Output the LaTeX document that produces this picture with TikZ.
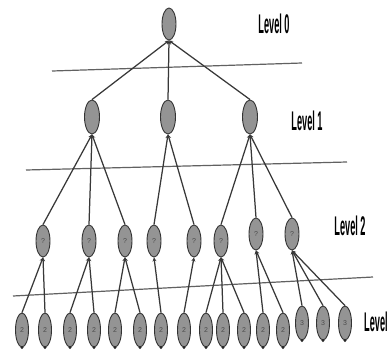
\documentclass[tikz,border=0pt]{standalone}
\usepackage{fontspec}
\setmainfont{Liberation Sans}
\usetikzlibrary{shapes.geometric,arrows.meta}
\begin{document}
\begin{tikzpicture}[x=1pt,y=-1pt,
  vtx/.style={ellipse,draw=black!80,fill=black!42,line width=0.9pt,minimum width=14pt,minimum height=32pt,inner sep=0pt,text=black!70,font=\fontsize{7}{7}\selectfont},
  leaf/.style={vtx,minimum width=13pt,minimum height=34pt},
  edge/.style={draw=black!78,line width=1.25pt,-{Stealth[length=4pt,width=4pt]}},
  sep/.style={draw=black!62,line width=1.2pt},
  lvl/.style={font=\fontsize{27}{27}\selectfont\bfseries,inner sep=0pt}]
\useasboundingbox (0,0) rectangle (391,354);
% separator lines
\coordinate (s1a) at (52,71);  \coordinate (s1b) at (302,63);
\coordinate (s2a) at (26,170); \coordinate (s2b) at (347,162);
\coordinate (s3a) at (13,296); \coordinate (s3b) at (373,277);
\draw[sep] (s1a) -- (s1b);
\draw[sep] (s2a) -- (s2b);
\draw[sep] (s3a) -- (s3b);
% nodes
\node[vtx] (r) at (169,24) {};
\foreach \n/\x in {a1/92,a2/168,a3/250}
  \node[vtx,minimum width=15pt,minimum height=34pt] (\n) at (\x,117) {};
\foreach \n/\x/\y in {b1/43/241,b2/89/241,b3/125/241,b4/154/241,b5/194/241,b6/221/241,b7/256/234,b8/292/234}
  \node[vtx] (\n) at (\x,\y) {?};
\foreach \n/\x/\y/\t in {c1/22/330/2,c2/45/330/2,c3/70/330/2,c4/94/330/2,c5/115/330/2,c6/140/330/2,c7/161/330/2,c8/184/330/2,c9/206/330/2,c10/223/330/2,c11/244/330/2,c12/263/330/2,c13/283/330/2,c14/302/323/3,c15/323/323/3,c16/345/323/3}
  {\node[leaf] (\n) at (\x,\y) {\t};
   \fill[black!85] (\n.south) circle (1.6pt);}
% edges
\foreach \c/\p in {a1/r,a2/r,a3/r,
  b1/a1,b2/a1,b3/a1,b4/a2,b5/a2,b6/a3,b7/a3,b8/a3,
  c1/b1,c2/b1,c3/b2,c4/b2,c5/b3,c6/b3,c7/b4,c8/b5,
  c9/b6,c10/b6,c11/b6,c12/b7,c13/b7,c14/b8,c15/b8,c16/b8}
  \draw[edge] (\c.north) -- (\p.south);
% level labels
\node[lvl] (t0) at (274,24) {\scalebox{0.34}[1]{Level 0}};
\node[lvl] (t1) at (307,121) {\scalebox{0.34}[1]{Level 1}};
\node[lvl] (t2) at (350,226) {\scalebox{0.34}[1]{Level 2}};
\node[lvl,anchor=west] (t3) at (364,322) {\scalebox{0.34}[1]{Level}};
\end{tikzpicture}
\end{document}
